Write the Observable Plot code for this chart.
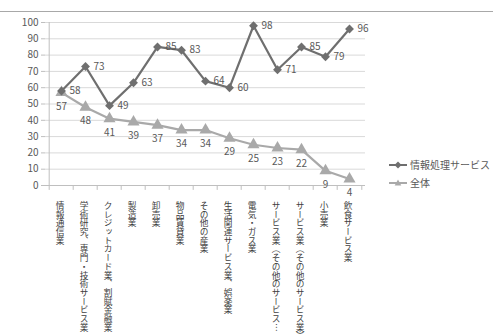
<!DOCTYPE html>
<html><head><meta charset="utf-8">
<script src="https://cdn.jsdelivr.net/npm/d3@7"></script>
<script src="https://cdn.jsdelivr.net/npm/@observablehq/plot@0.6"></script>
<style>
body{margin:0;background:#fff;font-family:"Noto Sans CJK JP",sans-serif;}
#wrap{position:relative;width:493px;height:335px;overflow:hidden;}
#chart{position:absolute;left:0;top:0;}
#topline{position:absolute;left:0;top:11px;width:493px;border-top:1px solid #a8a8a8;}
#legend{position:absolute;left:389px;top:156px;font-size:10px;color:#595959;line-height:18px;}
#legend div{display:flex;align-items:center;white-space:nowrap;}
#legend svg{margin-right:3px;}
</style></head><body>
<div id="wrap"><div id="chart"></div><div id="topline"></div><div id="legend"></div></div>
<script>
const categories = [
  "情報通信業",
  "学術研究、専門・技術サービス業",
  "クレジットカード業、割賦金融業",
  "製造業",
  "卸売業",
  "物品賃貸業",
  "その他の産業",
  "生活関連サービス業、娯楽業",
  "電気・ガス業",
  "サービス業（その他のサービス…",
  "サービス業（その他のサービス業）",
  "小売業",
  "飲食サービス業"
];
const infoService = [58, 73, 49, 63, 85, 83, 64, 60, 98, 71, 85, 79, 96];
const overall = [57, 48, 41, 39, 37, 34, 34, 29, 25, 23, 22, 9, 4];
const seriesNames = ["情報処理サービス", "全体"];
const yTicks = [0, 10, 20, 30, 40, 50, 60, 70, 80, 90, 100];

const c1 = "#6f6f6f", c2 = "#a9a9a9";
const rows1 = categories.map((c, i) => ({cat: c, v: infoService[i]}));
const rows2 = categories.map((c, i) => ({cat: c, v: overall[i]}));
const innerW = 493 - 45 - 128;
const step = innerW / categories.length;

const plot = Plot.plot({
  width: 493, height: 335,
  marginTop: 22, marginBottom: 150, marginLeft: 45, marginRight: 128,
  style: {fontFamily: '"Noto Sans CJK JP", sans-serif', fontSize: "10px", color: "#595959", background: "transparent"},
  x: {type: "point", domain: categories, padding: 0.5, axis: null},
  y: {domain: [0, 100], axis: null},
  marks: [
    Plot.gridY(yTicks, {stroke: "#d9d9d9", strokeOpacity: 1}),
    Plot.axisY(yTicks, {tickSize: 4, tickPadding: 3, label: null, stroke: "#bfbfbf", fill: "#595959", fontSize: 10}),
    Plot.ruleX([categories[0]], {y1: 0, y2: 100, dx: -step / 2, stroke: "#bfbfbf"}),
    Plot.ruleY([0], {stroke: "#bfbfbf"}),
    Plot.ruleX(categories, {x: d => d, y1: 0, y2: -3, dx: -step / 2, stroke: "#bfbfbf", clip: false}),
    Plot.ruleX([categories[categories.length - 1]], {y1: 0, y2: -3, dx: step / 2, stroke: "#bfbfbf"}),
    Plot.line(rows2, {x: "cat", y: "v", stroke: c2, strokeWidth: 2.2}),
    Plot.dot(rows2, {x: "cat", y: "v", symbol: "triangle", r: 4.5, fill: c2}),
    Plot.line(rows1, {x: "cat", y: "v", stroke: c1, strokeWidth: 2.2}),
    Plot.dot(rows1, {x: "cat", y: "v", symbol: "diamond2", r: 4, fill: c1}),
    Plot.text(rows1, {x: "cat", y: "v", text: d => String(d.v), dx: 8, textAnchor: "start", fill: "#595959", fontSize: 10}),
    Plot.text(rows2, {x: "cat", y: "v", text: d => String(d.v), dy: 14, fill: "#595959", fontSize: 10}),
    Plot.text(categories, {x: d => d, y: 0, text: d => d, dy: 13, dx: -1.5, textAnchor: "start", lineAnchor: "middle", fill: "#404040", fontSize: 8.7, ariaLabel: () => "xlabel"})
  ]
});
plot.querySelectorAll('text[aria-label="xlabel"]').forEach(t => {
  t.setAttribute("writing-mode", "tb-rl");
  t.style.writingMode = "vertical-rl";
  t.style.textOrientation = "mixed";
  t.removeAttribute("dy");
});
document.getElementById("chart").appendChild(plot);

const legend = document.getElementById("legend");
const sym = [
  `<svg width="18" height="10"><line x1="0" y1="5" x2="18" y2="5" stroke="${c1}" stroke-width="2"/><path d="M9 1.5 L12.5 5 L9 8.5 L5.5 5Z" fill="${c1}"/></svg>`,
  `<svg width="18" height="10"><line x1="0" y1="5" x2="18" y2="5" stroke="${c2}" stroke-width="2"/><path d="M9 1.5 L12.3 7.5 L5.7 7.5Z" fill="${c2}"/></svg>`
];
seriesNames.forEach((n, i) => {
  const d = document.createElement("div");
  d.innerHTML = sym[i] + `<span>${n}</span>`;
  legend.appendChild(d);
});
</script>
</body></html>
